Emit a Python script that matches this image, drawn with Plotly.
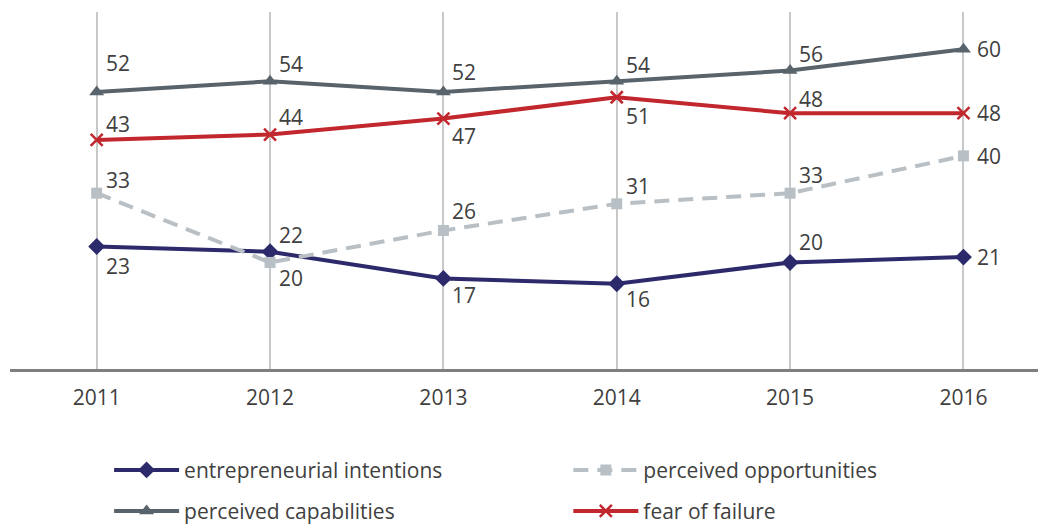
import plotly.graph_objects as go

# Survey years and the four indicator series (percent)
years = ["2011", "2012", "2013", "2014", "2015", "2016"]
entrepreneurial_intentions = [23, 22, 17, 16, 20, 21]
perceived_opportunities = [33, 20, 26, 31, 33, 40]
perceived_capabilities = [52, 54, 52, 54, 56, 60]
fear_of_failure = [43, 44, 47, 51, 48, 48]

# Vertical placement of each value label relative to its marker (px, +up)
ei_label_dy = [-20, 17, -17, -15, 20, 0]
po_label_dy = [13, -16, 19, 18, 18, 0]
pc_label_dy = [29, 17, 20, 16, 17, 0]
ff_label_dy = [16, 18, -17, -19, 14, 0]

FONT = "Open Sans"
TEXT = "#404040"

# one legend box per series, laid out as a 2x2 grid under the axis
series = [
    dict(name="entrepreneurial intentions", y=entrepreneurial_intentions, dy=ei_label_dy,
         color="#2d2a6c", dash="solid", symbol="diamond", size=13,
         legend="legend", lx=0.105, ly=0.106),
    dict(name="perceived opportunities", y=perceived_opportunities, dy=po_label_dy,
         color="#b9c0c5", dash="15px,9px", symbol="square", size=11,
         legend="legend2", lx=0.547, ly=0.106),
    dict(name="perceived capabilities", y=perceived_capabilities, dy=pc_label_dy,
         color="#59636b", dash="solid", symbol="triangle-up", size=13,
         legend="legend3", lx=0.105, ly=0.028),
    dict(name="fear of failure", y=fear_of_failure, dy=ff_label_dy,
         color="#c1272d", dash="solid", symbol="x-thin", size=12,
         legend="legend4", lx=0.547, ly=0.028),
]

fig = go.Figure()
annotations = []
legends = {}
for s in series:
    marker = dict(symbol=s["symbol"], size=s["size"], color=s["color"])
    if s["symbol"] == "x-thin":
        marker["line"] = dict(color=s["color"], width=2.5)
    fig.add_trace(go.Scatter(
        x=years, y=s["y"], name=s["name"], mode="lines+markers",
        line=dict(color=s["color"], width=4, dash=s["dash"]),
        marker=marker, legend=s["legend"], cliponaxis=False,
    ))
    for i, v in enumerate(s["y"]):
        last = i == len(years) - 1
        annotations.append(dict(
            x=i, y=v, xref="x", yref="y", text=str(v), showarrow=False,
            xanchor="left", yanchor="middle",
            xshift=12 if last else 7, yshift=s["dy"][i],
            font=dict(family=FONT, size=21, color=TEXT),
        ))
    legends[s["legend"]] = dict(
        xref="container", yref="container", x=s["lx"], y=s["ly"],
        xanchor="left", yanchor="middle", orientation="h",
        font=dict(family=FONT, size=21, color=TEXT),
        bgcolor="rgba(0,0,0,0)", itemwidth=65,
    )

fig.update_layout(
    width=1039, height=526,
    margin=dict(l=10, r=1, t=12, b=157),
    paper_bgcolor="white", plot_bgcolor="white",
    font=dict(family=FONT, color=TEXT),
    showlegend=True,
    annotations=annotations,
    xaxis=dict(
        type="category", range=[-0.5, 5.43],
        showgrid=True, gridcolor="#c8c8c8", gridwidth=2,
        showline=True, linecolor="#7f7f7f", linewidth=3,
        ticks="", tickfont=dict(family=FONT, size=21, color=TEXT),
        ticklabelstandoff=8, zeroline=False,
    ),
    yaxis=dict(range=[0, 67], visible=False, showgrid=False, zeroline=False),
    **legends,
)

fig.write_html("out.html")
